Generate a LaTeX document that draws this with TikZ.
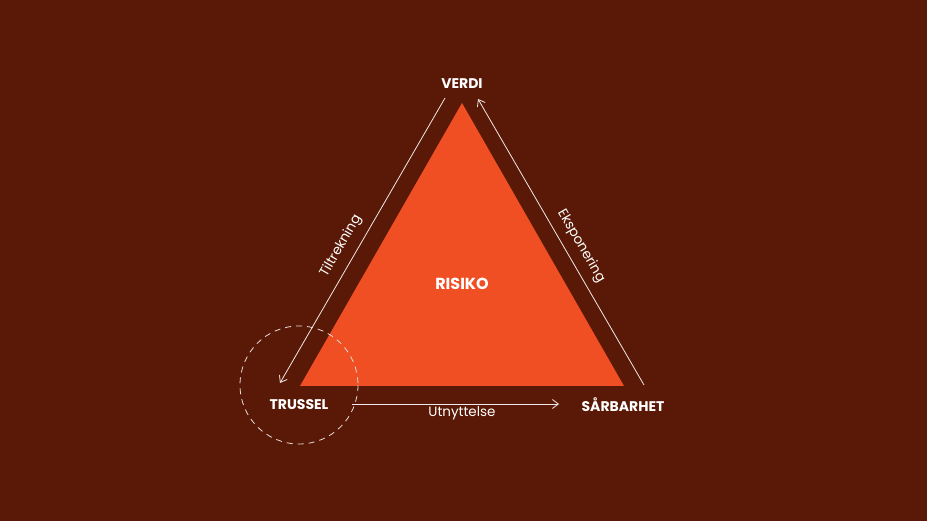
\documentclass[tikz,border=0pt]{standalone}
\usepackage{fontspec}
\setmainfont{Poppins}
\usetikzlibrary{arrows.meta}
\definecolor{bg}{HTML}{5A1907}
\definecolor{tri}{HTML}{F04E23}
\begin{document}
\begin{tikzpicture}[x=1pt,y=-1pt,
  lbl/.style={text=white,font=\fontsize{14}{15}\selectfont\bfseries,inner sep=1pt},
  edgelbl/.style={text=white,font=\fontsize{13.5}{15}\selectfont,inner sep=0.5pt},
  conn/.style={draw=white!90!bg,line width=0.8pt,-{Straight Barb[length=6pt,width=9pt]}}]
\fill[bg] (0,0) rectangle (927,521);
\useasboundingbox (0,0) rectangle (927,521);
\fill[tri] (462,103) -- (300,386) -- (624,386) -- cycle;
\node[text=white,font=\fontsize{16}{18}\selectfont\bfseries] (risiko) at (462,284) {RISIKO};
\node[lbl] (verdi) at (462,84) {VERDI};
\node[lbl] (trussel) at (299,405) {TRUSSEL};
\node[lbl] (sarbarhet) at (623,405) {SÅRBARHET};
\draw[white!85!bg,dashed,dash pattern=on 6pt off 5pt,line width=0.8pt] (trussel.center) ++(0,-20) circle[radius=59];
\coordinate (l1) at (445,98);
\coordinate (l2) at (280,383);
\coordinate (r1) at (644,385);
\coordinate (r2) at (478,99);
\coordinate (b1) at (352,404);
\coordinate (b2) at (559,404);
\draw[conn] (l1) -- (l2);
\draw[conn] (r1) -- (r2);
\draw[conn] (b1) -- (b2);
\node[edgelbl,rotate=60] (tilt) at (341,246) {Tiltrekning};
\node[edgelbl,rotate=-60] (eksp) at (581,246) {Eksponering};
\node[edgelbl] (utn) at (462,413) {Utnyttelse};
\end{tikzpicture}
\end{document}
